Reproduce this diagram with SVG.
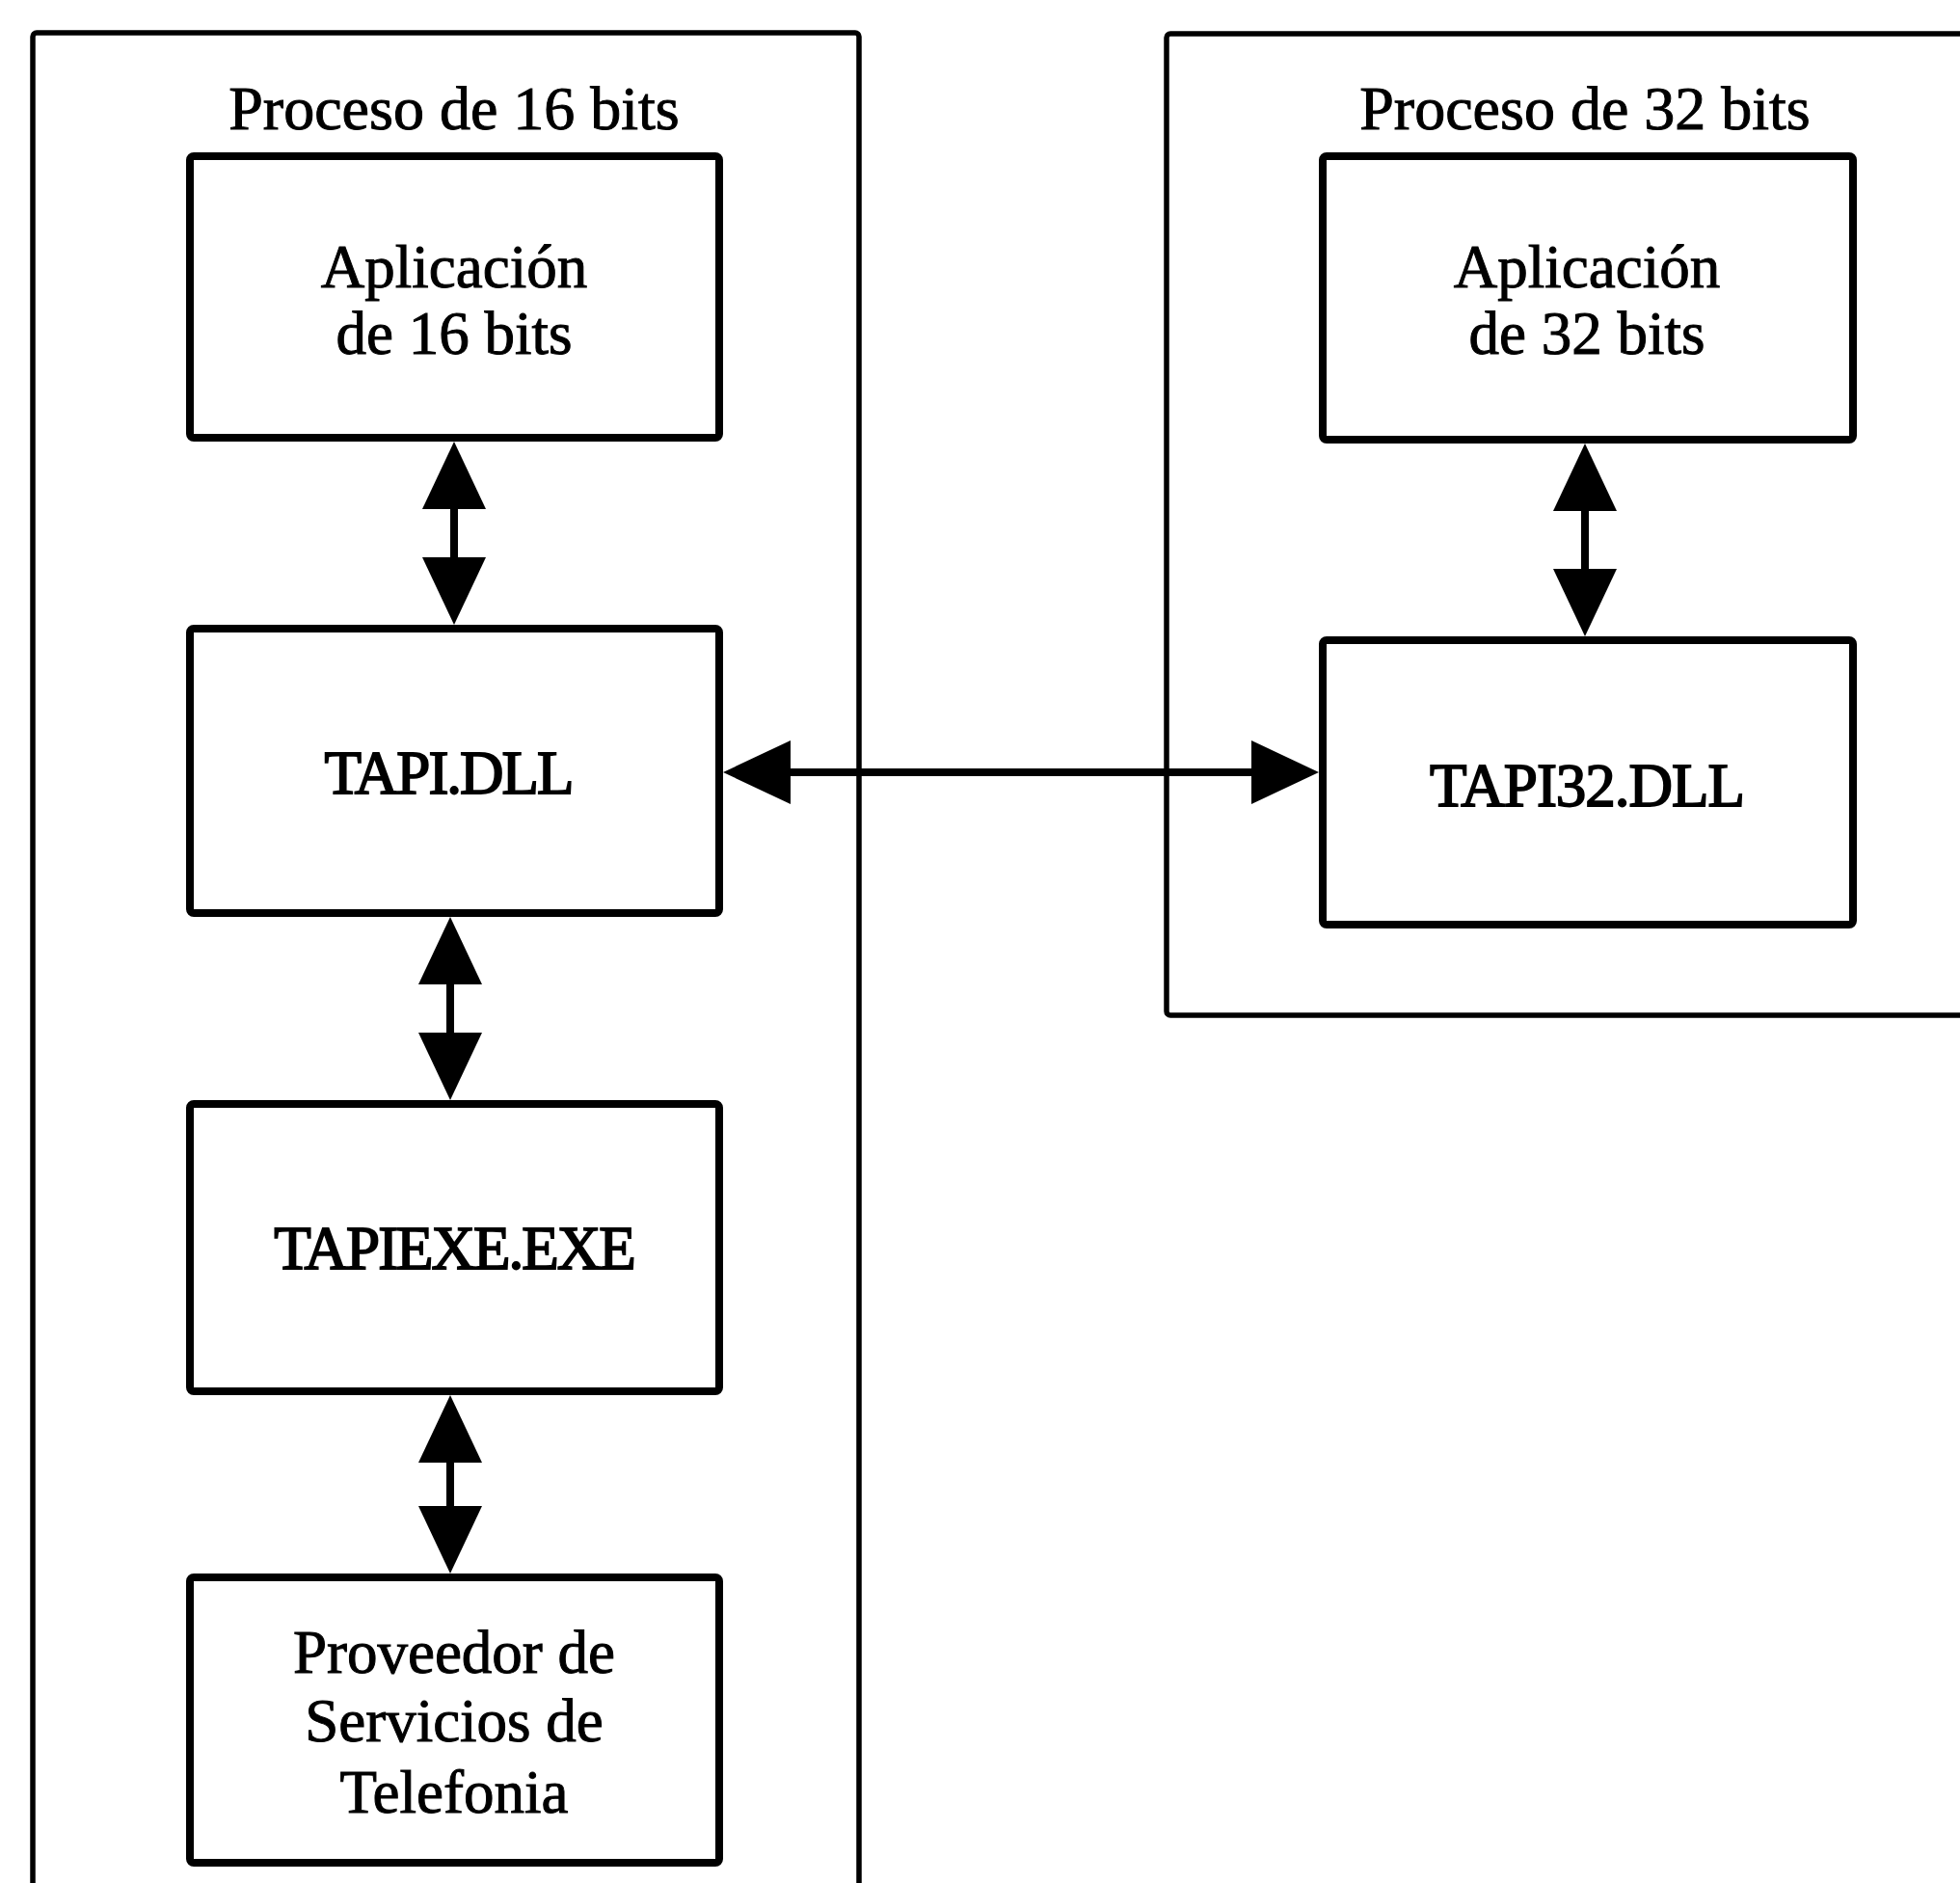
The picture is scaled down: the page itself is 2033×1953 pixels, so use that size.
<svg xmlns="http://www.w3.org/2000/svg" width="2033" height="1953" viewBox="0 0 2033 1953">
  <style>
    .proc { fill: none; stroke: #000; stroke-width: 5.5; }
    .box { fill: #fff; stroke: #000; stroke-width: 8; }
    .lbl { font-family: "Liberation Serif", "Times New Roman", serif; font-size: 63px; fill: #000; stroke: #000; stroke-width: 1; text-anchor: middle; }
    .title { font-size: 64px; }
    .mod { stroke-width: 1.8; }
    .link { stroke: #000; stroke-width: 8; fill: none; marker-start: url(#head); marker-end: url(#head); }
  </style>
  <defs>
    <marker id="head" viewBox="0 0 70 66" refX="61" refY="33" markerWidth="70" markerHeight="66" markerUnits="userSpaceOnUse" orient="auto-start-reverse">
      <path d="M0,0 L70,33 L0,66 z" fill="#000"/>
    </marker>
  </defs>
  <rect width="2033" height="1953" fill="#fff"/>

  <!-- process containers -->
  <g id="proc16">
    <rect class="proc" x="34" y="34" width="857" height="2000" rx="4"/>
    <text class="lbl title" x="471" y="134">Proceso de 16 bits</text>
  </g>
  <g id="proc32">
    <rect class="proc" x="1210" y="35" width="900" height="1018" rx="4"/>
    <text class="lbl title" x="1644" y="134">Proceso de 32 bits</text>
  </g>

  <!-- 16-bit stack -->
  <g id="app16">
    <rect class="box" x="197" y="162" width="549" height="292" rx="4"/>
    <text class="lbl" x="471" y="298">Aplicación</text>
    <text class="lbl" x="471" y="367">de 16 bits</text>
  </g>
  <g id="tapi-dll">
    <rect class="box" x="197" y="652" width="549" height="295" rx="4"/>
    <text class="lbl mod" x="465" y="823" letter-spacing="-2">TAPI.DLL</text>
  </g>
  <g id="tapiexe">
    <rect class="box" x="197" y="1145" width="549" height="298" rx="4"/>
    <text class="lbl mod" x="471" y="1316" letter-spacing="-2">TAPIEXE.EXE</text>
  </g>
  <g id="tsp">
    <rect class="box" x="197" y="1636" width="549" height="296" rx="4"/>
    <text class="lbl" x="471" y="1735">Proveedor de</text>
    <text class="lbl" x="471" y="1806">Servicios de</text>
    <text class="lbl" x="471" y="1880">Telefonia</text>
  </g>

  <!-- 32-bit stack -->
  <g id="app32">
    <rect class="box" x="1372" y="162" width="550" height="294" rx="4"/>
    <text class="lbl" x="1646" y="298">Aplicación</text>
    <text class="lbl" x="1646" y="367">de 32 bits</text>
  </g>
  <g id="tapi32">
    <rect class="box" x="1372" y="664" width="550" height="295" rx="4"/>
    <text class="lbl mod" x="1646" y="836" letter-spacing="-1">TAPI32.DLL</text>
  </g>

  <!-- bidirectional links -->
  <g id="links">
    <line class="link" x1="471" y1="467" x2="471" y2="639"/>
    <line class="link" x1="467" y1="960" x2="467" y2="1132"/>
    <line class="link" x1="467" y1="1456" x2="467" y2="1623"/>
    <line class="link" x1="1644" y1="469" x2="1644" y2="651"/>
    <line class="link" x1="759" y1="801" x2="1359" y2="801"/>
  </g>
</svg>
